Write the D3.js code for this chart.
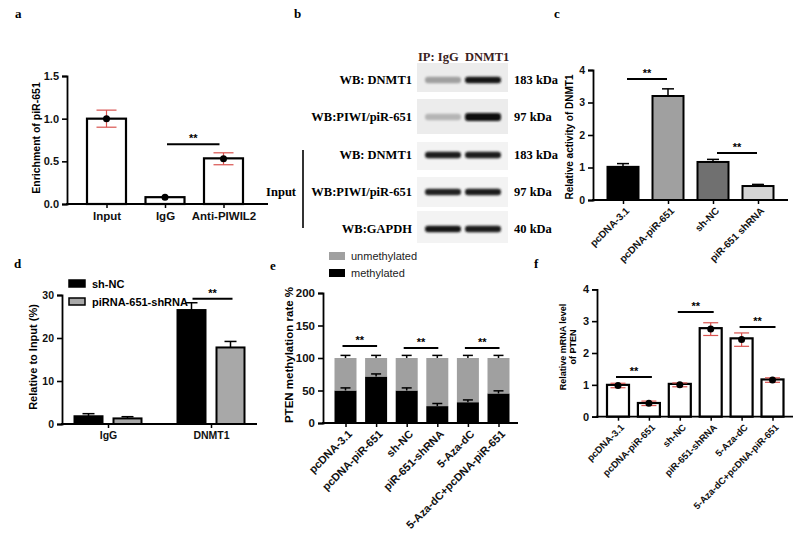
<!DOCTYPE html>
<html>
<head>
<meta charset="utf-8">
<script src="https://cdn.jsdelivr.net/npm/d3@7"></script>
<style>
  body { margin: 0; background: #fff; }
  svg { display: block; font-family: "Liberation Sans", Arial, sans-serif; }
</style>
</head>
<body>
<svg id="fig" width="800" height="543"></svg>
<script>
// ---- panel a: RIP enrichment
const aCats = ["Input", "IgG", "Anti-PIWIL2"];
const aBars = [1.0, 0.08, 0.535];
const aDots = [1.0, 0.08, 0.53];
const aErr = [0.1, 0.01, 0.07];
const aTicks = [0, 0.5, 1.0, 1.5];
const aSig = [["IgG", "Anti-PIWIL2", 0.70]];

// ---- panel b: co-IP western blot
const bRows = ["WB: DNMT1", "WB:PIWI/piR-651", "WB: DNMT1", "WB:PIWI/piR-651", "WB:GAPDH"];
const bKda = ["183 kDa", "97 kDa", "183 kDa", "97 kDa", "40 kDa"];
const bLanes = ["IgG", "DNMT1"];
const bBands = [[0.3, 0.95], [0.2, 1.0], [0.9, 0.9], [0.88, 0.92], [0.95, 0.92]];

// ---- panel c: DNMT1 activity
const cCats = ["pcDNA-3.1", "pcDNA-piR-651", "sh-NC", "piR-651 shRNA"];
const cVals = [1.02, 3.2, 1.17, 0.43];
const cErr = [0.1, 0.22, 0.08, 0.05];
const cTicks = [0, 1, 2, 3, 4];
const cSig = [["pcDNA-3.1", "pcDNA-piR-651", 3.72], ["sh-NC", "piR-651 shRNA", 1.45]];

// ---- panel d: ChIP
const dGroups = ["IgG", "DNMT1"];
const dSeries = ["sh-NC", "piRNA-651-shRNA"];
const dShNC = [1.8, 26.5];
const dShRNA = [1.3, 17.8];
const dErrShNC = [0.6, 1.7];
const dErrShRNA = [0.4, 1.4];
const dTicks = [0, 10, 20, 30];

// ---- panel e: PTEN methylation
const eCats = ["pcDNA-3.1", "pcDNA-piR-651", "sh-NC", "piR-651-shRNA", "5-Aza-dC", "5-Aza-dC+pcDNA-piR-651"];
const eMethylated = [50, 71.5, 50, 26, 32, 45.5];
const eUnmethylated = [50, 28.5, 50, 74, 68, 54.5];
const eErrMeth = [4, 4, 4, 4, 3.5, 4];
const eErrTotal = [4, 4, 4, 4, 4, 4];
const eTicks = [0, 50, 100, 150, 200];
const eSig = [["pcDNA-3.1", "pcDNA-piR-651", 118.5], ["sh-NC", "piR-651-shRNA", 115.5], ["5-Aza-dC", "5-Aza-dC+pcDNA-piR-651", 115.5]];

// ---- panel f: PTEN mRNA
const fCats = eCats;
const fBars = [1.0, 0.43, 1.03, 2.78, 2.46, 1.17];
const fDots = [0.98, 0.42, 1.0, 2.75, 2.42, 1.15];
const fErr = [0.07, 0.07, 0.06, 0.2, 0.21, 0.07];
const fTicks = [0, 1, 2, 3, 4];
const fSig = [["pcDNA-3.1", "pcDNA-piR-651", 1.25], ["sh-NC", "piR-651-shRNA", 3.29], ["5-Aza-dC", "5-Aza-dC+pcDNA-piR-651", 2.82]];

const svg = d3.select("#fig");
const RED = "#d9534f";

// panel letters
const letters = [["a", 15, 18], ["b", 294, 18], ["c", 554, 18], ["d", 14, 268], ["e", 270, 270], ["f", 534, 268]];
svg.selectAll("text.letter").data(letters).enter().append("text")
  .attr("class", "letter")
  .attr("x", d => d[1]).attr("y", d => d[2])
  .style("font-family", "'Liberation Serif', serif").style("font-weight", "bold").style("font-size", "13px")
  .text(d => d[0]);

// helpers
function yAxis(y, x, ticks, fmt, fs) {
  const g = svg.append("g").attr("transform", `translate(${x},0)`)
    .call(d3.axisLeft(y).tickValues(ticks).tickFormat(fmt).tickSizeOuter(0).tickSize(5).tickPadding(3));
  g.select(".domain").attr("stroke-width", 1.8);
  g.selectAll(".tick line").attr("stroke-width", 1.6);
  g.selectAll("text").style("font-weight", "bold").style("font-size", fs + "px").attr("fill", "#111");
  return g;
}
function xAxis(xs, y0, x0, x1, fs, rotate) {
  svg.append("line").attr("x1", x0).attr("x2", x1).attr("y1", y0).attr("y2", y0)
    .attr("stroke", "#000").attr("stroke-width", 1.8);
  const g = svg.append("g").attr("transform", `translate(0,${y0})`)
    .call(d3.axisBottom(xs).tickSize(4).tickPadding(4));
  g.select(".domain").remove();
  g.selectAll(".tick line").attr("stroke-width", 1.5);
  const t = g.selectAll("text").style("font-weight", "bold").style("font-size", fs + "px").attr("fill", "#111");
  if (rotate) {
    t.attr("x", 0).attr("y", 0).attr("dy", "0.35em")
      .attr("transform", "translate(4,9) rotate(-45)")
      .style("text-anchor", "end");
  }
  return g;
}
function yTitle(lines, x, y, fs) {
  const t = svg.append("text").attr("transform", `translate(${x},${y}) rotate(-90)`)
    .attr("text-anchor", "middle").style("font-weight", "bold").style("font-size", fs + "px");
  lines.forEach((l, i) => t.append("tspan").attr("x", 0).attr("dy", i === 0 ? 0 : fs * 1.15).text(l));
}
function sigLines(sig, xs, y, x1off, x2off) {
  sig.forEach(s => {
    const xa = xs(s[0]) + x1off, xb = xs(s[1]) + x2off, yy = y(s[2]);
    svg.append("line").attr("x1", xa).attr("x2", xb).attr("y1", yy).attr("y2", yy)
      .attr("stroke", "#000").attr("stroke-width", 2);
    svg.append("text").attr("x", (xa + xb) / 2).attr("y", yy - 2).attr("text-anchor", "middle")
      .style("font-weight", "bold").style("font-size", "11px").text("**");
  });
}
function errUp(cx, vTop, vErr, y, cap, color) {
  svg.append("line").attr("x1", cx).attr("x2", cx).attr("y1", y(vTop)).attr("y2", y(vTop + vErr))
    .attr("stroke", color).attr("stroke-width", 1.5);
  svg.append("line").attr("x1", cx - cap / 2).attr("x2", cx + cap / 2).attr("y1", y(vTop + vErr)).attr("y2", y(vTop + vErr))
    .attr("stroke", color).attr("stroke-width", 1.5);
}
function errBoth(cx, v, e, y, cap, color) {
  svg.append("line").attr("x1", cx).attr("x2", cx).attr("y1", y(v - e)).attr("y2", y(v + e))
    .attr("stroke", color).attr("stroke-width", 1.2);
  [v - e, v + e].forEach(w => svg.append("line").attr("x1", cx - cap / 2).attr("x2", cx + cap / 2)
    .attr("y1", y(w)).attr("y2", y(w)).attr("stroke", color).attr("stroke-width", 1.2));
}

// ================= panel a
{
  const y = d3.scaleLinear().domain([0, 1.5]).range([204, 76]);
  const x = d3.scalePoint().domain(aCats).range([106.5, 223.5]);
  const bw = 39;
  svg.selectAll("rect.abar").data(aCats).enter().append("rect")
    .attr("x", d => x(d) - bw / 2).attr("width", bw)
    .attr("y", (d, i) => y(aBars[i])).attr("height", (d, i) => y(0) - y(aBars[i]))
    .attr("fill", "#fff").attr("stroke", "#000").attr("stroke-width", 2.2);
  aCats.forEach((c, i) => { if (aErr[i] > 0.02) errBoth(x(c), aDots[i], aErr[i], y, 20, RED); });
  svg.selectAll("circle.adot").data(aCats).enter().append("circle")
    .attr("cx", d => x(d)).attr("cy", (d, i) => y(aDots[i])).attr("r", 3.5).attr("fill", "#000");
  yAxis(y, 67, aTicks, d3.format(".1f"), 11);
  xAxis(x, 204, 66, 268, 11.5, false);
  sigLines(aSig, x, y, 2, -4);
  yTitle(["Enrichment of piR-651"], 40, 138, 10.5);
}

// ================= panel b
{
  const serif = "'Liberation Serif', 'Times New Roman', serif";
  const rowY = i => [80, 117, 155, 192, 229][i];
  const lane = d3.scalePoint().domain(bLanes).range([443, 483]);
  const boxes = [[63, 92], [99, 134], [142, 170], [177, 207], [211, 243]];
  const defs = svg.append("defs");
  defs.append("filter").attr("id", "blur").attr("x", "-20%").attr("y", "-80%").attr("width", "140%").attr("height", "260%")
    .append("feGaussianBlur").attr("stdDeviation", 1.3);
  boxes.forEach((b, i) => {
    svg.append("rect").attr("x", 417).attr("y", b[0]).attr("width", 91).attr("height", b[1] - b[0])
      .attr("fill", i < 2 ? "#ececec" : "#f3f3f3");
  });
  const shade = d3.scaleLinear().domain([0, 1]).range(["#e0e0e0", "#0a0a0a"]);
  bBands.forEach((row, i) => {
    row.forEach((v, j) => {
      const h = (i === 1 && j === 1) ? 8 : 6.5;
      svg.append("rect")
        .attr("x", lane(bLanes[j]) - 18).attr("width", 36)
        .attr("y", rowY(i) - h / 2).attr("height", h).attr("rx", 3)
        .attr("fill", shade(v)).attr("filter", "url(#blur)");
    });
  });
  svg.selectAll("text.blab").data(bRows).enter().append("text")
    .attr("x", 412).attr("y", (d, i) => rowY(i) + 4).attr("text-anchor", "end")
    .style("font-family", serif).style("font-weight", "bold").style("font-size", "12.5px").text(d => d);
  svg.selectAll("text.bkda").data(bKda).enter().append("text")
    .attr("x", 514).attr("y", (d, i) => rowY(i) + 4)
    .style("font-family", serif).style("font-weight", "bold").style("font-size", "12.5px").text(d => d);
  svg.append("text").attr("x", 418).attr("y", 61).attr("fill", "#3a2222")
    .style("font-family", serif).style("font-weight", "bold").style("font-size", "12.5px")
    .attr("xml:space", "preserve")
    .text("IP: " + bLanes[0] + "  " + bLanes[1]);
  svg.append("line").attr("x1", 303).attr("x2", 303).attr("y1", 150).attr("y2", 228)
    .attr("stroke", "#333").attr("stroke-width", 2);
  svg.append("text").attr("x", 296).attr("y", 196).attr("text-anchor", "end")
    .style("font-family", serif).style("font-weight", "bold").style("font-size", "12.5px").text("Input");
}

// ================= panel c
{
  const y = d3.scaleLinear().domain([0, 4]).range([200, 70]);
  const x = d3.scalePoint().domain(cCats).range([623, 758]);
  const fills = ["#000", "#a0a0a0", "#707070", "#d4d4d4"];
  const bw = 31;
  svg.selectAll("rect.cbar").data(cCats).enter().append("rect")
    .attr("x", d => x(d) - bw / 2).attr("width", bw)
    .attr("y", (d, i) => y(cVals[i])).attr("height", (d, i) => y(0) - y(cVals[i]))
    .attr("fill", (d, i) => fills[i]).attr("stroke", "#000").attr("stroke-width", 2);
  cCats.forEach((c, i) => errUp(x(c), cVals[i], cErr[i], y, 12, "#000"));
  yAxis(y, 593, cTicks, d3.format("d"), 10.5);
  xAxis(x, 200, 592, 788, 10, true);
  sigLines(cSig, x, y, 4, -1);
  yTitle(["Relative activity of DNMT1"], 573, 137, 10);
}

// ================= panel d
{
  const y = d3.scaleLinear().domain([0, 30]).range([424, 295]);
  const x0 = d3.scalePoint().domain(dGroups).range([108, 211]);
  const x1 = d3.scalePoint().domain(dSeries).range([-19.5, 19.5]);
  const vals = [dShNC, dShRNA], errs = [dErrShNC, dErrShRNA];
  const fills = ["#000", "#a8a8a8"];
  const bw = 28;
  dSeries.forEach((s, k) => {
    dGroups.forEach((g, i) => {
      const cx = x0(g) + x1(s);
      svg.append("rect").attr("x", cx - bw / 2).attr("width", bw)
        .attr("y", y(vals[k][i])).attr("height", y(0) - y(vals[k][i]))
        .attr("fill", fills[k]).attr("stroke", "#000").attr("stroke-width", 2);
      errUp(cx, vals[k][i], errs[k][i], y, 12, "#000");
    });
  });
  yAxis(y, 62, dTicks, d3.format("d"), 10.5);
  xAxis(x0, 424, 61, 257, 10.5, false);
  const sx = g => x0("DNMT1") + x1(g);
  sigLines([["sh-NC", "piRNA-651-shRNA", 29.1]], sx, y, 1, 2);
  yTitle(["Relative to Input (%)"], 37, 357, 11);
  // legend
  dSeries.forEach((s, k) => {
    svg.append("rect").attr("x", 69).attr("y", 280 + k * 18).attr("width", 16).attr("height", 7)
      .attr("fill", fills[k]).attr("stroke", "#000").attr("stroke-width", 1.5);
    svg.append("text").attr("x", 92).attr("y", 288 + k * 18)
      .style("font-weight", "bold").style("font-size", "11px").text(s);
  });
}

// ================= panel e
{
  const y = d3.scaleLinear().domain([0, 200]).range([423, 293]);
  const x = d3.scalePoint().domain(eCats).range([345.5, 498.5]);
  const table = eCats.map((c, i) => ({ cat: c, methylated: eMethylated[i], unmethylated: eUnmethylated[i] }));
  const keys = ["methylated", "unmethylated"];
  const stack = d3.stack().keys(keys)(table);
  const color = d3.scaleOrdinal().domain(keys).range(["#000", "#a0a0a0"]);
  const bw = 22;
  svg.selectAll("g.elayer").data(stack).enter().append("g").attr("fill", d => color(d.key))
    .selectAll("rect").data(d => d).enter().append("rect")
    .attr("x", d => x(d.data.cat) - bw / 2).attr("width", bw)
    .attr("y", d => y(d[1])).attr("height", d => y(d[0]) - y(d[1]));
  eCats.forEach((c, i) => {
    errUp(x(c), eMethylated[i], eErrMeth[i], y, 10, "#000");
    errUp(x(c), eMethylated[i] + eUnmethylated[i], eErrTotal[i], y, 10, "#000");
  });
  yAxis(y, 323, eTicks, d3.format("d"), 11.5);
  xAxis(x, 423, 322, 518, 11, true);
  sigLines(eSig, x, y, -3, 1);
  yTitle(["PTEN methylation rate %"], 293, 355, 11.5);
  // legend
  ["unmethylated", "methylated"].forEach((k, i) => {
    svg.append("rect").attr("x", 329).attr("y", 252 + i * 17).attr("width", 16).attr("height", 8).attr("fill", color(k));
    svg.append("text").attr("x", 351).attr("y", 260 + i * 17).style("font-size", "11px").attr("fill", "#222").text(k);
  });
}

// ================= panel f
{
  const y = d3.scaleLinear().domain([0, 4]).range([416.7, 289.3]);
  const x = d3.scalePoint().domain(fCats).range([618, 772.5]);
  const bw = 22;
  svg.selectAll("rect.fbar").data(fCats).enter().append("rect")
    .attr("x", d => x(d) - bw / 2).attr("width", bw)
    .attr("y", (d, i) => y(fBars[i])).attr("height", (d, i) => y(0) - y(fBars[i]))
    .attr("fill", "#fff").attr("stroke", "#000").attr("stroke-width", 2.2);
  fCats.forEach((c, i) => errBoth(x(c), fDots[i], fErr[i], y, 15, RED));
  svg.selectAll("circle.fdot").data(fCats).enter().append("circle")
    .attr("cx", d => x(d)).attr("cy", (d, i) => y(fDots[i])).attr("r", 3.5).attr("fill", "#000");
  yAxis(y, 597, fTicks, d3.format("d"), 11);
  xAxis(x, 416.7, 596, 793, 9.5, true);
  sigLines(fSig, x, y, -2, 3);
  yTitle(["Relative mRNA level", "of PTEN"], 566, 347, 9);
}
</script>
</body>
</html>
